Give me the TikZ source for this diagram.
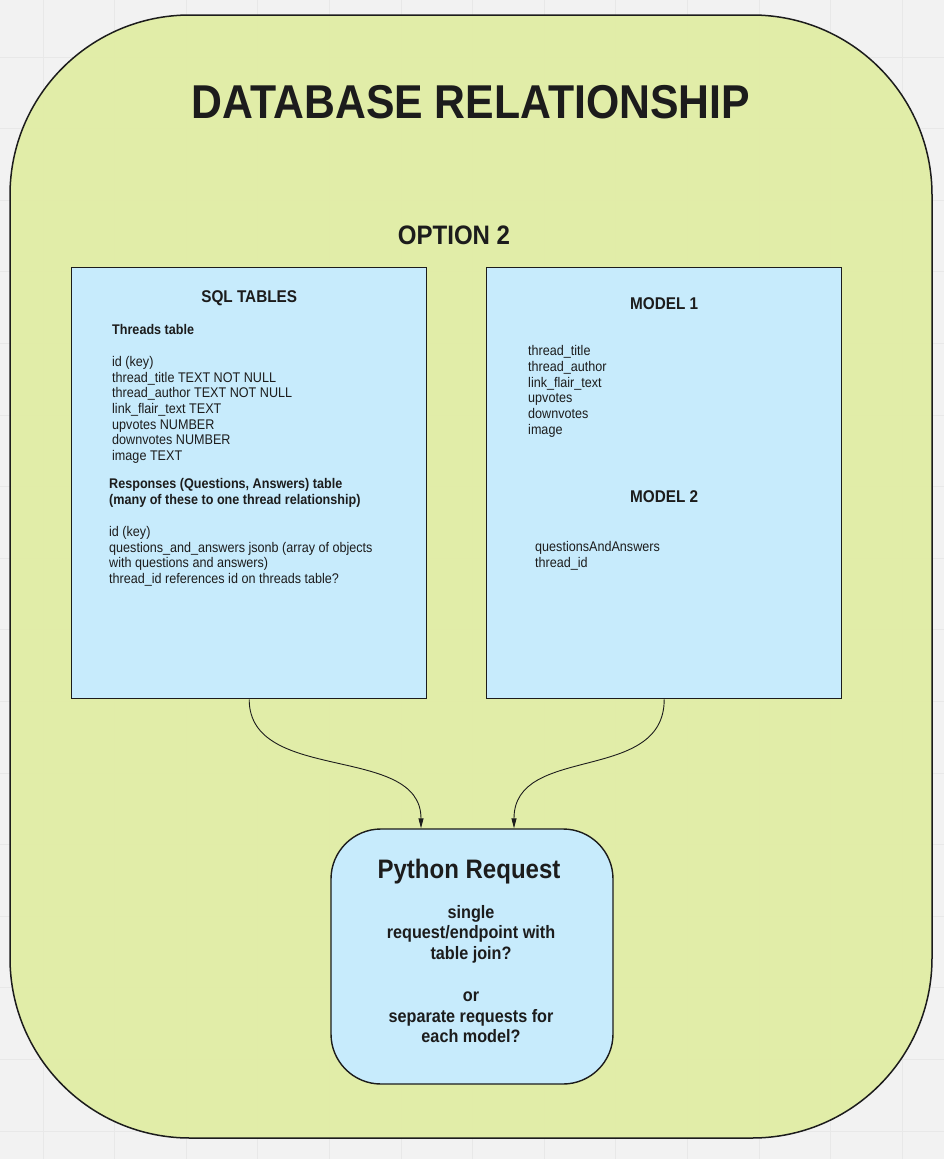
\documentclass[tikz,border=0pt]{standalone}
\usepackage{fontspec}
\setmainfont{Liberation Sans}[FakeStretch=0.9]
\usepackage{xcolor}
\usetikzlibrary{arrows.meta}
\usetikzlibrary{positioning}

\definecolor{boardgray}{HTML}{F2F2F2}
\definecolor{gridgray}{HTML}{E8E8E8}
\definecolor{framegreen}{HTML}{E1EDA5}
\definecolor{tableblue}{HTML}{C7EBFC}
\definecolor{inkdark}{HTML}{1C1C1C}

\tikzset{
    gridline/.style={draw=gridgray, line width=0.8pt},
    board/.style={draw=inkdark, fill=framegreen, fill opacity=0.95, line width=1.5pt, rounded corners=180pt},
    panel/.style={draw=inkdark, fill=tableblue, line width=1.4pt, minimum width=355pt, minimum height=431pt, inner sep=0pt, anchor=north west},
    reqbox/.style={draw=inkdark, fill=tableblue, line width=1.4pt, rounded corners=50pt, minimum width=282pt, minimum height=255pt, inner sep=0pt},
    headline/.style={text=inkdark, inner sep=0pt, font=\fontsize{17}{20}\selectfont\bfseries},
    bodytext/.style={text=inkdark, inner sep=0pt, anchor=north west, align=left, font=\fontsize{14}{15.7}\selectfont},
    boldtext/.style={bodytext, font=\fontsize{14}{15.7}\selectfont\bfseries},
    flow/.style={draw=inkdark, line width=0.9pt, -{Triangle[length=10pt, width=5pt]}},
}

\begin{document}
\begin{tikzpicture}[x=1pt, y=-1pt]
    \useasboundingbox (0,0) rectangle (944,1159);
    \fill[boardgray] (0,0) rectangle (944,1159);
    \foreach \gx in {0,...,12} {\draw[gridline] ({43+71.6*\gx},0) -- ({43+71.6*\gx},1159);}
    \foreach \gy in {0,...,15} {\draw[gridline] (0,{57+71.6*\gy}) -- (944,{57+71.6*\gy});}
    \draw[board] (10,15) rectangle (932,1138); % green board

    \node[headline, font=\fontsize{47.5}{52}\selectfont\bfseries] (title) at (471,102) {DATABASE RELATIONSHIP};
    \node[headline, font=\fontsize{26.7}{30}\selectfont\bfseries] (option) at (454,235) {OPTION 2};

    \node[panel] (sql) at (71,267) {}; % sql tables
    \node[panel] (models) at (486,267) {}; % models
    \node[reqbox] (request) at (472,956.5) {};

    % left panel
    \node[headline] (sqlhead) at ([yshift=-31pt]sql.north) {SQL TABLES};
    \node[boldtext] (threads) at (112,324.5) {Threads table};
    \node[bodytext] (threadcols) at (112,356) {id (key)\\thread\_title TEXT NOT NULL\\thread\_author TEXT NOT NULL\\link\_flair\_text TEXT\\upvotes NUMBER\\downvotes NUMBER\\image TEXT};
    \node[boldtext] (responses) at (109,478.5) {Responses (Questions, Answers) table\\(many of these to one thread relationship)};
    \node[bodytext] (responsecols) at (109,526) {id (key)\\questions\_and\_answers jsonb (array of objects\\with questions and answers)\\thread\_id references id on threads table?};

    % right panel
    \node[headline] (model1) at ([yshift=-37pt]models.north) {MODEL 1};
    \node[bodytext] (model1cols) at (528,345.5) {thread\_title\\thread\_author\\link\_flair\_text\\upvotes\\downvotes\\image};
    \node[headline] (model2) at ([yshift=-230pt]models.north) {MODEL 2};
    \node[bodytext] (model2cols) at (535,541.5) {questionsAndAnswers\\thread\_id};

    % request box
    \node[headline, font=\fontsize{26.7}{30}\selectfont\bfseries] (reqhead) at (469,872) {Python Request};
    \node[headline, align=center, font=\fontsize{18}{20.8}\selectfont\bfseries] (reqbody) at (471,974) {single\\request/endpoint with\\table join?\\[20.8pt]or\\separate requests for\\each model?};

    \draw[flow] (sql.south) .. controls +(0,85) and +(0,-85) .. ([xshift=-51pt]request.north);
    \draw[flow] (models.south) .. controls +(0,85) and +(0,-85) .. ([xshift=42pt]request.north);
\end{tikzpicture}
\end{document}
